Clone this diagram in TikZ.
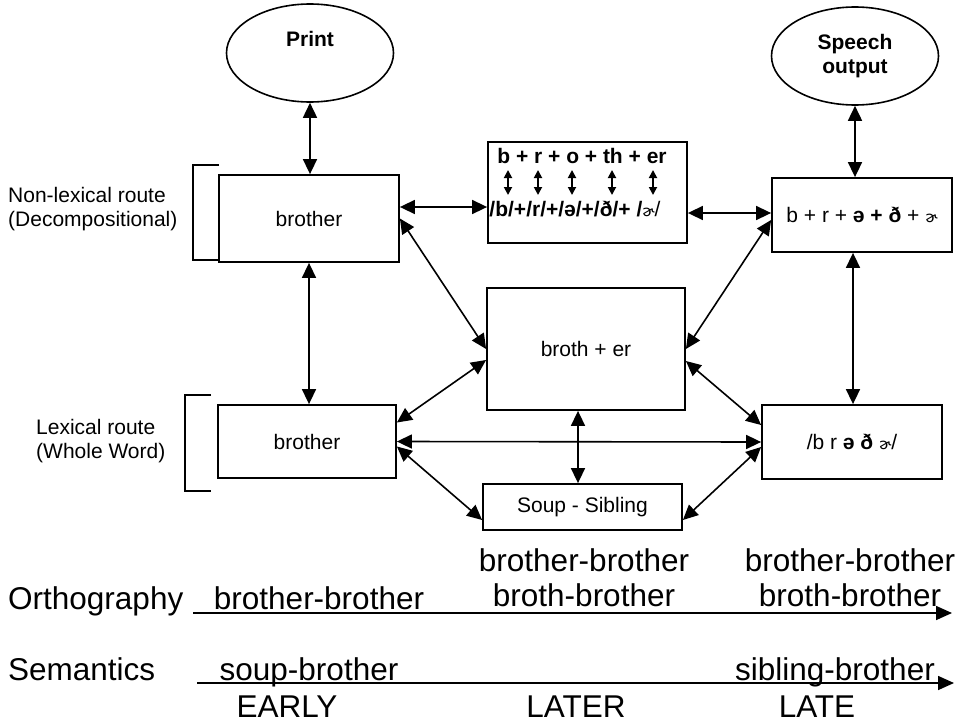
\documentclass[tikz,border=0pt]{standalone}
\usepackage{fontspec}
\setmainfont{Liberation Sans}
\newfontfamily\ipafont{DejaVu Sans}
\usetikzlibrary{shapes.geometric, arrows.meta, positioning}

% small r-coloured schwa
\newcommand{\rhot}{{\ipafont\mdseries\fontsize{15}{15}\selectfont ɚ}}

\begin{document}
\begin{tikzpicture}[x=1pt, y=-1pt,
    every node/.style={inner sep=0pt},
    box/.style={draw, line width=1.8pt, fill=white},
    oval/.style={draw, ellipse, line width=1.6pt, minimum width=167pt, minimum height=98pt},
    link/.style={line width=1.6pt, {Triangle[length=15pt,width=14pt]}-{Triangle[length=15pt,width=14pt]}},
    tinylink/.style={line width=1.8pt, {Triangle[length=8pt,width=8pt]}-{Triangle[length=8pt,width=8pt]}},
    timeline/.style={line width=1.6pt, -{Triangle[length=16pt,width=14pt]}},
    small/.style={font=\fontsize{21}{24}\selectfont},
    bsmall/.style={font=\fontsize{21}{24}\selectfont\bfseries},
    big/.style={font=\fontsize{31.5}{35}\selectfont}]
    \useasboundingbox (0,0) rectangle (966,725);

    % Print and speech
    \node[oval] (print) at (310,53) {};
    \node[bsmall, anchor=base] (printlbl) at (310,47) {Print};
    \node[oval, bsmall, align=center] (speech) at (855,56) {Speech\\output};

    % Word boxes
    \node[box, small, minimum width=180pt, minimum height=87pt] (tlb) at (309,218.5) {brother};
    \node[box, minimum width=199pt, minimum height=101pt] (tm) at (587.5,192.5) {};
    \node[box, small, minimum width=180pt, minimum height=74pt] (trb) at (862,215) {b + r + \textbf{ə + ð} + \rhot};
    \node[box, small, minimum width=198pt, minimum height=122pt] (mid) at (586,349) {broth + er};
    \node[box, small, minimum width=178pt, minimum height=73pt] (blb) at (307,441.5) {brother};
    \node[box, small, minimum width=180pt, minimum height=74pt] (brb) at (852,442) {/b r \textbf{ə ð} \rhot/};
    \node[box, small, minimum width=199pt, minimum height=46pt] (soup) at (582.5,507) {Soup - Sibling};

    % Letters to sounds
    \node[bsmall, anchor=base] (spell) at (582,163) {b + r + o + th + er};
    \node[bsmall, anchor=base] (sound) at (575,216) {/b/+/r/+/ə/+/ð/+ /\rhot\mdseries/};
    \foreach \x in {508,538,572,612,653}
        \draw[tinylink] (\x,170) -- (\x,195);

    % Route brackets
    \draw[line width=1.6pt] (219,165) -- (193,165) -- (193,260) -- (219,260);
    \draw[line width=1.6pt] (211,395) -- (185,395) -- (185,491) -- (211,491);
    \node[small, align=left, anchor=west] (nonlex) at (8,209.5) {Non-lexical route\\(Decompositional)};
    \node[small, align=left, anchor=west] (lex) at (36,441) {Lexical route\\(Whole Word)};

    % Connections
    \coordinate (tlbhi) at ([yshift=11.5pt]tlb.east);
    \coordinate (trbhi) at ([yshift=2pt]trb.west);
    \coordinate (midlo) at ([xshift=-8pt]mid.south);
    \coordinate (trblo) at ([xshift=-9pt]trb.south);
    \draw[link] (print.south) -- (print.south |- tlb.north);
    \draw[link] (speech.south) -- (speech.south |- trb.north);
    \draw[link] (tlbhi) -- (tlbhi -| tm.west);
    \draw[link] (trbhi -| tm.east) -- (trbhi);
    \draw[link] (tlb.south) -- (tlb.south |- blb.north);
    \draw[link] (trblo) -- (trblo |- brb.north);
    \draw[link] (tlb.east) -- (mid.west);
    \draw[link] ([yshift=-5pt]trb.west) -- (mid.east);
    \draw[link] ([yshift=-11pt]mid.west) -- ([yshift=19pt]blb.east);
    \draw[link] ([yshift=-12pt]mid.east) -- ([yshift=17pt]brb.west);
    \draw[link] (blb.east) -- (brb.west);
    \draw[link] ([yshift=-5pt]blb.east) -- ([yshift=-13pt]soup.west);
    \draw[link] ([yshift=-5pt]brb.west) -- ([yshift=-13pt]soup.east);
    \draw[link] (midlo) -- (midlo |- soup.north);

    % Time lines
    \coordinate (ostart) at (193,613);
    \coordinate (oend) at (952,613);
    \coordinate (sstart) at (197,683);
    \coordinate (send) at (954,683);
    \draw[timeline] (ostart) -- (oend);
    \draw[timeline] (sstart) -- (send);
    \node[big, anchor=base west] (orth) at (8,609) {Orthography};
    \node[big, anchor=base west] (sem) at (8,680) {Semantics};
    \node[big, anchor=base] (oearly) at (319,609) {brother-brother};
    \node[big, align=center] (olater) at (584,578) {brother-brother\\broth-brother};
    \node[big, align=center] (olate) at (850,578) {brother-brother\\broth-brother};
    \node[big, anchor=base] (searly) at (309,680) {soup-brother};
    \node[big, anchor=base] (slate) at (835,680) {sibling-brother};
    \node[big, anchor=base] (early) at (287,717) {EARLY};
    \node[big, anchor=base] (later) at (576,717) {LATER};
    \node[big, anchor=base] (late) at (817,717) {LATE};
\end{tikzpicture}
\end{document}
